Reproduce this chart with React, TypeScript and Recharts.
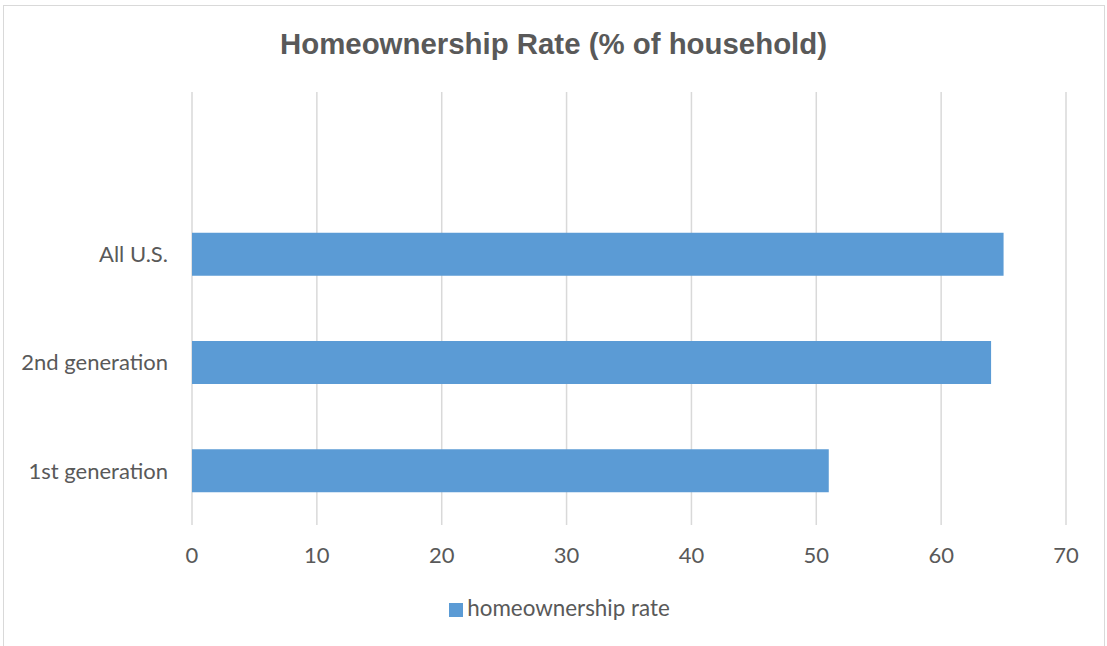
import { Bar, BarChart, CartesianGrid, Legend, XAxis, YAxis } from "recharts";

const categories = ["", "All U.S.", "2nd generation", "1st generation"];
const rates = [null, 65, 64, 51];
const xTicks = [0, 10, 20, 30, 40, 50, 60, 70];

const data = categories.map((name, i) => ({ name, rate: rates[i] }));

const grey = "#595959";
const font = "Lato, 'Open Sans', sans-serif";

export default function App() {
  return (
    <div style={{ position: "absolute", left: 0, top: 0, width: 1107, height: 646, background: "#fff", overflow: "hidden" }}>
      <div
        style={{
          position: "absolute",
          left: 3,
          top: 5,
          width: 1102,
          height: 660,
          border: "1px solid #d9d9d9",
          boxSizing: "border-box",
        }}
      />
      <div
        style={{
          position: "absolute",
          left: 0,
          top: 27,
          width: 1107,
          textAlign: "center",
          fontFamily: "'Liberation Sans', Arial, sans-serif",
          fontWeight: "bold",
          fontSize: 29.4,
          color: grey,
        }}
      >
        Homeownership Rate (% of household)
      </div>
      <div style={{ position: "absolute", left: 0, top: 0 }}>
        <BarChart
          width={1107}
          height={646}
          data={data}
          layout="vertical"
          margin={{ top: 92, right: 41, bottom: 64, left: 0 }}
          barCategoryGap="30%"
        >
          <CartesianGrid horizontal={false} stroke="#d9d9d9" strokeWidth={1.5} />
          <XAxis
            type="number"
            domain={[0, 70]}
            ticks={xTicks}
            height={30}
            axisLine={false}
            tickLine={false}
            tickSize={0}
            tickMargin={22}
            tick={{ fill: grey, fontSize: 22, fontFamily: font }}
          />
          <YAxis
            type="category"
            dataKey="name"
            width={192}
            axisLine={false}
            tickLine={false}
            tickSize={0}
            tickMargin={24}
            tick={{ fill: grey, fontSize: 22, fontFamily: font }}
          />
          <Legend
            verticalAlign="bottom"
            iconType="square"
            iconSize={14}
            wrapperStyle={{ top: 594, left: 11, width: 1107, fontFamily: font, fontSize: 22.4 }}
            formatter={(v) => <span style={{ color: grey }}>{v}</span>}
          />
          <Bar dataKey="rate" name="homeownership rate" fill="#5B9BD5" isAnimationActive={false} />
        </BarChart>
      </div>
    </div>
  );
}
